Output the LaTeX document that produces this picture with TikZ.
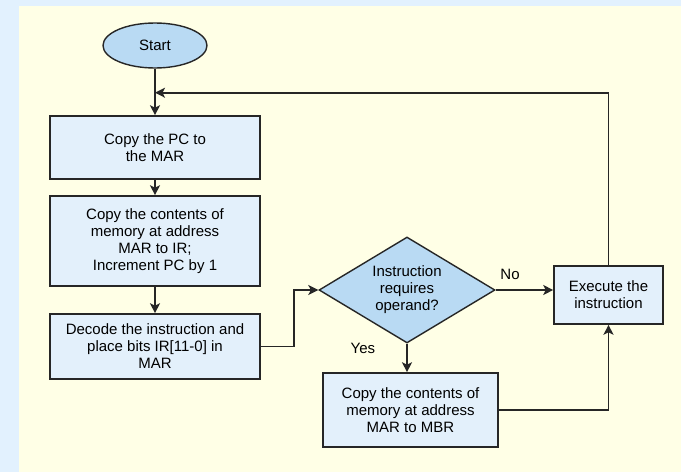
\documentclass[tikz,border=0pt]{standalone}
\usepackage{fontspec}
\setmainfont{Liberation Sans}
\usetikzlibrary{shapes.geometric, arrows.meta, positioning}
\definecolor{outerbg}{HTML}{E2F1FE}
\definecolor{cream}{HTML}{FFFFE6}
\definecolor{boxfill}{HTML}{E3F0FB}
\definecolor{darkfill}{HTML}{B9DAF3}
\definecolor{edge}{HTML}{262626}
\begin{document}
\begin{tikzpicture}[x=1pt, y=-1pt, >={Stealth[length=10pt,width=10pt,inset=2.5pt]},
    every node/.style={font=\fontsize{15}{17}\selectfont, align=center, inner sep=0pt},
    procbox/.style={draw=edge, line width=1.6pt, fill=boxfill, rectangle},
    startnode/.style={draw=edge, line width=1.4pt, fill=darkfill, ellipse, minimum width=104pt, minimum height=45pt},
    decision/.style={draw=edge, line width=1.4pt, fill=darkfill, diamond, aspect=1.66, minimum width=176pt, minimum height=106pt},
    flow/.style={draw=edge, line width=1.6pt, ->}]
    \fill[outerbg](0,0) rectangle (681,472);
    \fill[cream](19,6) rectangle (681,472);
    % left column
    \node[startnode](start) at (155,45.5){Start};
    \node[procbox, minimum width=210pt, minimum height=63pt](pc) at (155,147.5){Copy the PC to\\the MAR};
    \node[procbox, minimum width=210pt, minimum height=90pt](fetch) at (155,241){Copy the contents of\\memory at address\\MAR to IR;\\Increment PC by 1};
    \node[procbox, minimum width=210pt, minimum height=65pt](decode) at (155,346.5){Decode the instruction and\\place bits IR[11-0] in\\MAR};
    % right part
    \node[decision](operand) at (407,290){Instruction\\requires\\operand?};
    \node[procbox, minimum width=109pt, minimum height=58pt](exec) at (608.5,295){Execute the\\instruction};
    \node[procbox, minimum width=175pt, minimum height=74pt](mbr) at (410.5,410){Copy the contents of\\memory at address\\MAR to MBR};
    \coordinate(join) at (155,92.7);
    % connectors
    \draw[flow](start)--(pc);
    \draw[flow](pc)--(fetch);
    \draw[flow](fetch)--(decode);
    \draw[flow](decode.east)--++(33,0)|-(operand.west);
    \draw[flow](operand.east)--node[pos=0.25, above=10pt]{No}(operand.east -| exec.west);
    \draw[flow](operand.south)--node[pos=0.15, left=31pt]{Yes}(operand.south |- mbr.north);
    \draw[flow](mbr.east)-|(exec.south);
    \draw[flow](exec.north)|-(join);
\end{tikzpicture}
\end{document}
